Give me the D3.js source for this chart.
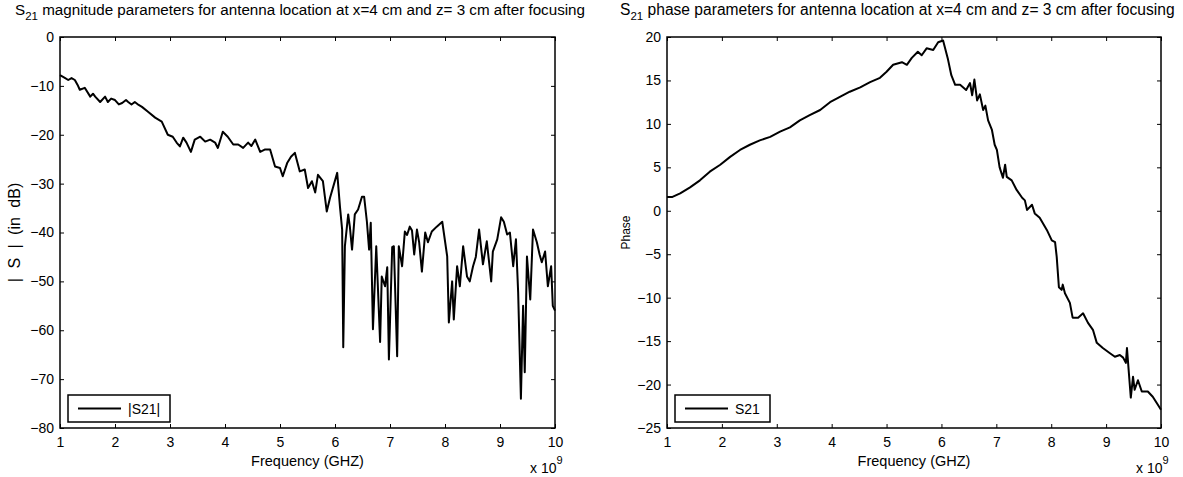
<!DOCTYPE html>
<html>
<head>
<meta charset="utf-8">
<script src="https://cdn.jsdelivr.net/npm/d3@7"></script>
<style>
  html, body { margin: 0; padding: 0; background: #fff; }
  svg { display: block; font-family: "Liberation Sans", Arial, sans-serif; }
</style>
</head>
<body>
<svg id="chart" width="1183" height="477"></svg>
<script>
// Frequency in GHz (axis shows units of 1e9 Hz)
const magFreq = [1.0,1.08,1.15,1.21,1.27,1.32,1.36,1.45,1.55,1.6,1.64,1.73,1.82,1.87,1.93,2.0,2.07,2.13,2.2,2.24,2.3,2.36,2.43,2.49,2.6,2.73,2.85,2.96,3.05,3.12,3.18,3.24,3.3,3.38,3.45,3.55,3.64,3.73,3.82,3.87,3.96,4.05,4.15,4.24,4.33,4.42,4.48,4.55,4.64,4.73,4.82,4.91,5.0,5.05,5.13,5.2,5.27,5.36,5.45,5.51,5.58,5.64,5.69,5.78,5.85,5.91,6.04,6.09,6.13,6.15,6.18,6.24,6.27,6.31,6.36,6.42,6.49,6.53,6.58,6.62,6.65,6.69,6.75,6.82,6.85,6.91,6.95,6.98,7.04,7.07,7.13,7.16,7.22,7.27,7.31,7.36,7.4,7.44,7.49,7.53,7.58,7.64,7.69,7.76,7.85,7.95,8.04,8.07,8.13,8.16,8.22,8.27,8.33,8.4,8.45,8.51,8.56,8.62,8.69,8.76,8.84,8.87,8.95,9.02,9.07,9.13,9.18,9.24,9.29,9.33,9.38,9.42,9.45,9.49,9.55,9.6,9.67,9.72,9.76,9.82,9.87,9.93,9.96,10.0];
// |S21| in dB
const magDb = [-7.8,-8.3,-8.8,-8.4,-8.8,-9.8,-10.8,-10.4,-12.2,-11.6,-12.2,-13.3,-12.2,-13.3,-12.6,-12.9,-13.8,-13.5,-12.9,-13.3,-13.8,-13.3,-13.9,-14.3,-15.3,-16.5,-17.3,-20.0,-20.4,-21.6,-22.4,-20.6,-21.6,-23.5,-21.0,-20.4,-21.4,-21.0,-21.6,-22.7,-19.4,-20.4,-22.0,-22.0,-22.7,-21.6,-22.3,-21.0,-23.5,-23.0,-23.0,-26.5,-26.8,-28.5,-25.8,-24.5,-23.7,-27.5,-27.1,-30.9,-29.5,-31.8,-28.2,-29.5,-35.7,-32.9,-27.8,-34.7,-39.4,-63.5,-42.8,-36.3,-38.8,-43.5,-36.3,-35.3,-32.7,-32.7,-37.8,-43.5,-38.0,-59.8,-42.8,-62.4,-49.0,-51.0,-47.1,-66.0,-43.0,-42.8,-65.3,-42.8,-46.9,-39.8,-40.5,-38.8,-39.6,-44.5,-39.4,-42.0,-48.0,-40.0,-42.0,-39.8,-38.8,-37.8,-44.9,-58.4,-50.0,-57.8,-46.9,-51.0,-42.8,-49.0,-50.0,-46.9,-45.0,-39.4,-46.5,-41.8,-50.0,-43.9,-41.4,-36.9,-37.8,-40.4,-40.0,-46.9,-41.4,-52.2,-74.0,-55.0,-68.6,-44.9,-53.7,-39.4,-42.0,-44.5,-46.1,-43.9,-51.0,-46.9,-55.0,-56.0];

const phFreq = [1.0,1.1,1.24,1.42,1.6,1.78,1.97,2.15,2.33,2.51,2.69,2.88,3.06,3.24,3.42,3.6,3.79,3.97,4.15,4.33,4.52,4.7,4.88,5.0,5.12,5.28,5.37,5.46,5.57,5.64,5.73,5.85,5.94,6.03,6.12,6.18,6.25,6.34,6.45,6.52,6.56,6.6,6.65,6.7,6.76,6.8,6.85,6.92,6.97,7.01,7.06,7.12,7.16,7.19,7.28,7.37,7.47,7.52,7.56,7.65,7.7,7.79,7.92,8.01,8.07,8.1,8.14,8.19,8.21,8.25,8.34,8.39,8.49,8.58,8.67,8.76,8.83,8.94,9.07,9.16,9.25,9.31,9.36,9.38,9.42,9.45,9.49,9.52,9.58,9.65,9.76,9.85,9.94,10.0];
// S21 phase
const phVal = [1.6,1.6,2.0,2.7,3.5,4.5,5.3,6.2,7.0,7.6,8.1,8.5,9.1,9.6,10.4,11.0,11.6,12.5,13.1,13.7,14.2,14.8,15.3,16.0,16.8,17.1,16.8,17.6,18.3,17.9,18.7,18.5,19.4,19.6,17.4,15.6,14.5,14.5,13.9,14.7,13.3,15.1,12.7,13.4,11.6,12.1,10.4,9.3,7.6,7.0,5.0,3.8,5.3,3.9,3.5,2.4,1.5,1.2,0.1,0.7,-0.3,-0.8,-2.2,-3.4,-3.6,-5.3,-8.8,-9.1,-8.5,-9.5,-10.6,-12.3,-12.3,-11.8,-12.9,-13.7,-15.2,-15.8,-16.4,-16.8,-16.6,-16.9,-17.5,-15.8,-19.1,-21.5,-19.1,-20.6,-19.5,-20.8,-20.8,-21.4,-22.3,-22.9];

const xTicks = [1,2,3,4,5,6,7,8,9,10];
const magTicks = [0,-10,-20,-30,-40,-50,-60,-70,-80];
const phTicks = [20,15,10,5,0,-5,-10,-15,-20,-25];

const svg = d3.select("#chart");
const TOP = 37, BOTTOM = 428;

function panel(opts) {
  const x = d3.scaleLinear().domain([1, 10]).range([opts.left, opts.right]);
  const y = d3.scaleLinear().domain(opts.yDomain).range([BOTTOM, TOP]);
  const g = svg.append("g");
  const tickLen = 4;

  // inward ticks on all four sides
  g.append("g").attr("transform", `translate(0,${BOTTOM})`)
    .call(d3.axisBottom(x).tickValues(xTicks).tickSize(-tickLen).tickPadding(9).tickFormat(d3.format("d")));
  g.append("g").attr("transform", `translate(0,${TOP})`)
    .call(d3.axisTop(x).tickValues(xTicks).tickSize(-tickLen).tickFormat(""));
  g.append("g").attr("transform", `translate(${opts.left},0)`)
    .call(d3.axisLeft(y).tickValues(opts.yTicks).tickSize(-tickLen).tickPadding(6).tickFormat(d3.format("d")));
  g.append("g").attr("transform", `translate(${opts.right},0)`)
    .call(d3.axisRight(y).tickValues(opts.yTicks).tickSize(-tickLen).tickFormat(""));
  g.selectAll(".domain").remove();
  g.selectAll(".tick line").attr("stroke", "#000").attr("stroke-width", 1);
  g.selectAll(".tick text").attr("font-size", 14).attr("fill", "#000")
    .attr("font-family", "Liberation Sans, Arial, sans-serif");

  // the data curve
  const line = d3.line().x((d, i) => x(opts.fx[i])).y(d => y(d));
  g.append("path").datum(opts.values)
    .attr("d", line).attr("fill", "none").attr("stroke", "#000")
    .attr("stroke-width", 2).attr("stroke-linejoin", "round");

  // axes box
  g.append("rect").attr("x", opts.left).attr("y", TOP)
    .attr("width", opts.right - opts.left).attr("height", BOTTOM - TOP)
    .attr("fill", "none").attr("stroke", "#000").attr("stroke-width", 1.5);

  // title with subscript
  const t = g.append("text").attr("x", opts.titleX).attr("y", 15)
    .attr("font-size", opts.titleSize).attr("fill", "#000");
  t.append("tspan").text("S");
  t.append("tspan").attr("dy", 5).attr("font-size", 11.5).text("21");
  t.append("tspan").attr("dy", -5).text(" " + opts.title);

  // x label and exponent
  g.append("text").attr("x", (opts.left + opts.right) / 2).attr("y", 466)
    .attr("text-anchor", "middle").attr("font-size", 14.5).text("Frequency (GHZ)");
  const e = g.append("text").attr("x", opts.right - 25).attr("y", 473).attr("font-size", 14);
  e.append("tspan").text("x 10");
  e.append("tspan").attr("dy", -9).attr("font-size", 11).text("9");

  // y label
  g.append("text")
    .attr("transform", `translate(${opts.yLabelX},${(TOP + BOTTOM) / 2}) rotate(-90)`)
    .attr("text-anchor", "middle").attr("font-size", opts.yLabelSize)
    .attr("word-spacing", opts.yLabelSpacing).text(opts.yLabel);

  // legend
  const L = opts.legend;
  g.append("rect").attr("x", L.x).attr("y", L.y).attr("width", L.w).attr("height", L.h)
    .attr("fill", "#fff").attr("stroke", "#000").attr("stroke-width", 1.5);
  g.append("line").attr("x1", L.x + 10).attr("x2", L.x + 53)
    .attr("y1", L.y + L.h / 2).attr("y2", L.y + L.h / 2)
    .attr("stroke", "#000").attr("stroke-width", 2);
  g.append("text").attr("x", L.x + 60).attr("y", L.y + L.h / 2 + 5)
    .attr("font-size", 14).text(L.label);
}

panel({
  left: 60, right: 555, yDomain: [-80, 0], yTicks: magTicks,
  fx: magFreq, values: magDb,
  titleX: 15, titleSize: 15.2,
  title: "magnitude parameters for antenna location at x=4 cm and z= 3 cm after focusing",
  yLabel: "| S | (in dB)", yLabelX: 20, yLabelSize: 16, yLabelSpacing: 5,
  legend: { x: 68, y: 395, w: 102, h: 27, label: "|S21|" }
});

panel({
  left: 667, right: 1161, yDomain: [-25, 20], yTicks: phTicks,
  fx: phFreq, values: phVal,
  titleX: 620, titleSize: 15.6,
  title: "phase parameters for antenna location at x=4 cm and z= 3 cm after focusing",
  yLabel: "Phase", yLabelX: 630, yLabelSize: 12, yLabelSpacing: 0,
  legend: { x: 675, y: 395, w: 95, h: 27, label: "S21" }
});
</script>
</body>
</html>
